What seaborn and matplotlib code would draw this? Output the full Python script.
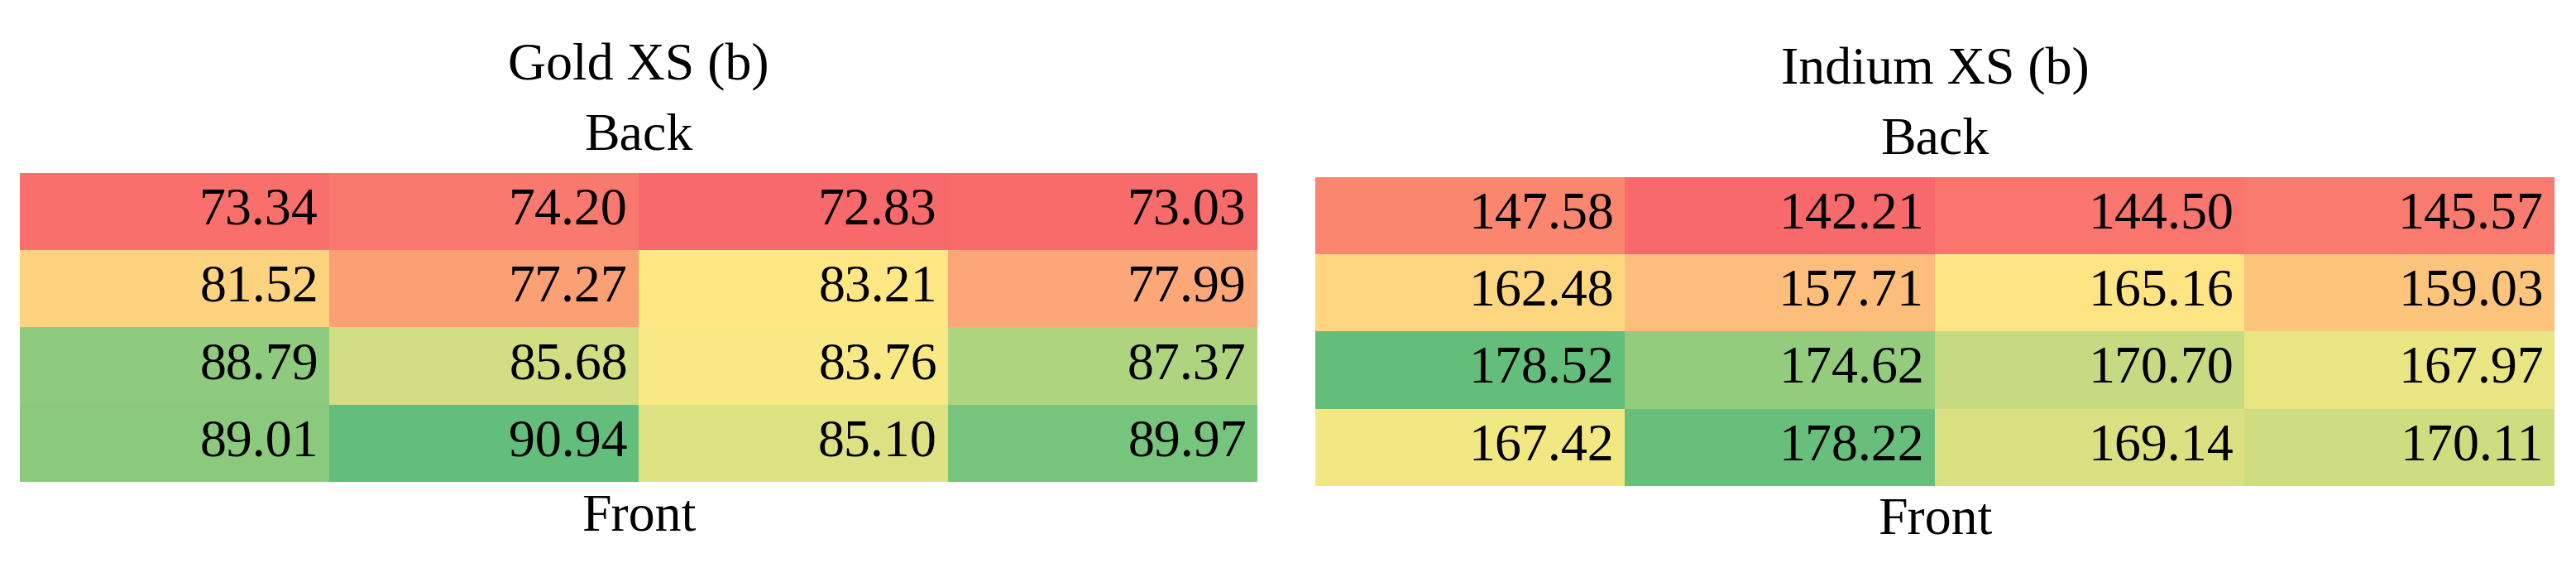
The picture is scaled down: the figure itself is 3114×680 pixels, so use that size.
import numpy as np
import pandas as pd
import matplotlib
matplotlib.use("Agg")
import matplotlib.pyplot as plt
import seaborn as sns
from matplotlib.colors import LinearSegmentedColormap, TwoSlopeNorm

# values (rows: Back -> Front)
gold_xs = [
    [73.34, 74.20, 72.83, 73.03],
    [81.52, 77.27, 83.21, 77.99],
    [88.79, 85.68, 83.76, 87.37],
    [89.01, 90.94, 85.10, 89.97],
]
indium_xs = [
    [147.58, 142.21, 144.50, 145.57],
    [162.48, 157.71, 165.16, 159.03],
    [178.52, 174.62, 170.70, 167.97],
    [167.42, 178.22, 169.14, 170.11],
]
titles = ["Gold XS (b)", "Indium XS (b)"]

sns.set_theme(style="white")
plt.rcParams['font.family'] = ['Liberation Serif', 'DejaVu Serif']
plt.rcParams['text.color'] = 'black'

# Excel style red-yellow-green colour scale
rdylgn = LinearSegmentedColormap.from_list("xl", ["#F8696B", "#FFEB84", "#63BE7B"])

fig = plt.figure(figsize=(31.14, 6.8), dpi=100)
ax1 = fig.add_axes([0.0077, 0.144, 0.4804, 0.549])
ax2 = fig.add_axes([0.5106, 0.137, 0.481, 0.549])

for ax, vals, title in zip([ax1, ax2], [gold_xs, indium_xs], titles):
    df = pd.DataFrame(vals)
    arr = df.values
    norm = TwoSlopeNorm(vmin=arr.min(), vcenter=np.median(arr), vmax=arr.max())
    sns.heatmap(df, ax=ax, cmap=rdylgn, norm=norm, cbar=False, annot=True, fmt=".2f",
                annot_kws={"fontsize": 46, "color": "black"}, linewidths=0,
                xticklabels=False, yticklabels=False)
    # right-align the numbers like in a spreadsheet
    for t in ax.texts:
        x, y = t.get_position()
        t.set_position((x + 0.465, y))
        t.set_ha("right")
        t.set_color("black")
    ax.text(0.5, 1.34, title, transform=ax.transAxes, ha="center", va="center",
            fontsize=46, color="black")
    ax.text(0.5, 1.115, "Back", transform=ax.transAxes, ha="center", va="center",
            fontsize=46, color="black")
    ax.text(0.5, -0.115, "Front", transform=ax.transAxes, ha="center", va="center",
            fontsize=46, color="black")

plt.savefig("out.png", dpi=100, facecolor="white")
plt.close()
